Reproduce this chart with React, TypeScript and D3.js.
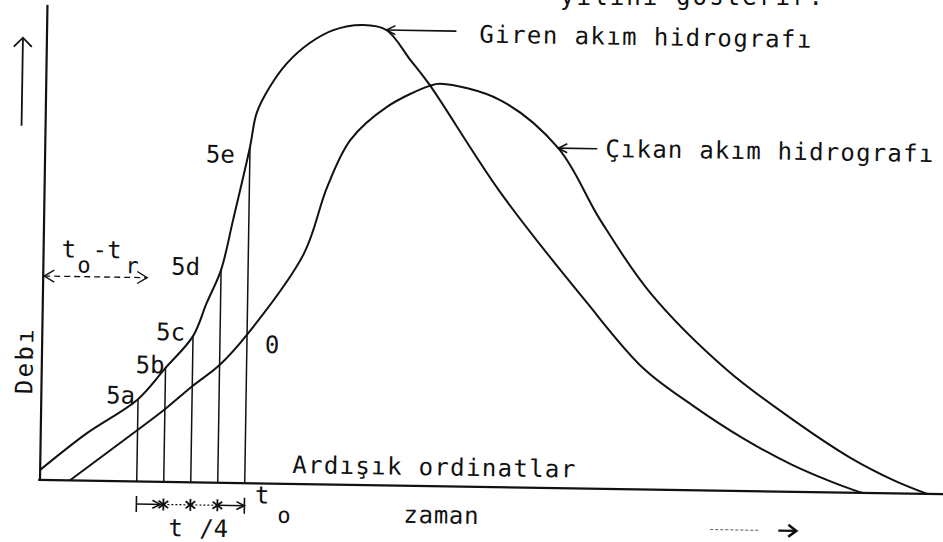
import React from "react";
import * as d3 from "d3";

// Inflow (giren) hydrograph: time and discharge, arbitrary units
const inflowTime = [0, 5.1, 10.75, 13.75, 16.75, 18.2, 19.75, 21.0, 22.75, 23.43, 24.87, 26.7, 29.2, 31.8, 35.1, 37.7, 40.4, 42.6, 50.6, 60.2, 66.8, 72.4, 78, 83.6, 89.2, 91.4];
const inflowQ = [2.2, 10.3, 17.9, 24.8, 31.8, 39, 46.3, 57.2, 73.1, 80.5, 86.3, 91.4, 95.9, 98.8, 100, 99, 92.6, 87.2, 64.2, 41, 26.4, 18.4, 11.5, 5.8, 1.4, 0];

// Outflow (çıkan) hydrograph
const outflowTime = [3.3, 10.75, 13.75, 16.75, 19.75, 22.75, 28.9, 31.4, 33.9, 37.9, 42.6, 43.8, 50.4, 57, 61.8, 67.5, 76.1, 83.6, 90, 94.8, 98.6];
const outflowQ = [0, 11.2, 15.8, 20.9, 25.6, 32.3, 50, 64.7, 75, 82.3, 87, 87.5, 84.2, 73.9, 58.4, 42.7, 26.3, 15.6, 7.6, 2.9, 0];

// Successive ordinates, spaced t_r/4 apart, ending at t_o
const ordinateLabels = ["5a", "5b", "5c", "5d", "5e"];
const ordinateTimes = [10.75, 13.75, 16.75, 19.75, 22.75];

// Where the curve labels point
const inflowLabelTime = 37.7;
const outflowLabelTime = 57;

const inflowLabel = "Giren akım hidrografı";
const outflowLabel = "Çıkan akım hidrografı";
const ordinatesLabel = "Ardışık ordinatlar";
const timeAxisLabel = "zaman";
const dischargeAxisLabel = "Debı";
const captionTail = "yılını gösterir.";

const INK = "#111";
const FONT = "'DejaVu Sans Mono', monospace";

const x = d3.scaleLinear().domain([0, 100]).range([40, 940]);
const y = d3.scaleLinear().domain([0, 100]).range([480, 20]);

const lineGen = d3
  .line<[number, number]>()
  .x((d) => x(d[0]))
  .y((d) => y(d[1]))
  .curve(d3.curveCatmullRom.alpha(0.5));

const inflowPts: [number, number][] = inflowTime.map((t, i) => [t, inflowQ[i]]);
const outflowPts: [number, number][] = outflowTime.map((t, i) => [t, outflowQ[i]]);

const qAt = (times: number[], qs: number[], t: number) => qs[times.indexOf(t)];

function Chevron({ x0, y0, dir, size = 10, spread = 5, width = 1.6 }: { x0: number; y0: number; dir: 1 | -1; size?: number; spread?: number; width?: number }) {
  return (
    <path
      d={`M${x0 - dir * size},${y0 - spread} L${x0},${y0} L${x0 - dir * size},${y0 + spread}`}
      fill="none"
      stroke={INK}
      strokeWidth={width}
    />
  );
}

function Star({ cx, cy }: { cx: number; cy: number }) {
  const r = 6;
  return (
    <g stroke={INK} strokeWidth={1.8}>
      <line x1={cx} y1={cy - r} x2={cx} y2={cy + r} />
      <line x1={cx - r * 0.8} y1={cy - r * 0.6} x2={cx + r * 0.8} y2={cy + r * 0.6} />
      <line x1={cx - r * 0.8} y1={cy + r * 0.6} x2={cx + r * 0.8} y2={cy - r * 0.6} />
    </g>
  );
}

export default function App() {
  const x0 = x(0);
  const y0 = y(0);

  const ordinates = ordinateTimes.map((t, i) => ({
    t,
    q: qAt(inflowTime, inflowQ, t),
    label: ordinateLabels[i],
  }));
  // label placement around each ordinate top: [dx from line, dy below top]
  const labelNudge: [number, number][] = [
    [-3, 4.5],
    [-1, 5.5],
    [-8, 4.6],
    [-21, 5.4],
    [-15, 16],
  ];

  const lastOrd = ordinateTimes[ordinateTimes.length - 1];
  const outAtLast = qAt(outflowTime, outflowQ, lastOrd);

  const gTip = { px: x(inflowLabelTime), py: y(qAt(inflowTime, inflowQ, inflowLabelTime)) };
  const cTip = { px: x(outflowLabelTime), py: y(qAt(outflowTime, outflowQ, outflowLabelTime)) };

  const dimY = y0 + 22.5;
  const ordX = ordinateTimes.map((t) => x(t));

  return (
    <svg
      width={943}
      height={542}
      viewBox="0 0 943 542"
      style={{ position: "absolute", left: 0, top: 0, background: "#fff" }}
    >
      <rect width={943} height={542} fill="#fff" />
      {/* caption line, mostly above the frame */}
      <text x={560} y={5} fontFamily={FONT} fontSize={24} fill={INK} textLength={263} lengthAdjust="spacing">
        {captionTail}
      </text>

      <g transform={`rotate(0.9 ${x0} ${y0})`} fontFamily={FONT} fill={INK}>
        {/* axes */}
        <line x1={x0} y1={y0} x2={x0} y2={y(103.3)} stroke={INK} strokeWidth={2.2} />
        <line x1={x(-0.2)} y1={y0} x2={x(101.5)} y2={y0} stroke={INK} strokeWidth={2.2} />

        {/* discharge direction arrow */}
        <line x1={16} y1={126} x2={16} y2={38} stroke={INK} strokeWidth={1.8} />
        <path d={`M7,47 L16,38 L25,47`} fill="none" stroke={INK} strokeWidth={1.8} />
        <text
          transform={`translate(31,362) rotate(-90)`}
          fontSize={24}
          textAnchor="middle"
          textLength={65}
          lengthAdjust="spacing"
        >
          {dischargeAxisLabel}
        </text>

        {/* hydrographs */}
        <path d={lineGen(inflowPts) ?? ""} fill="none" stroke={INK} strokeWidth={2} />
        <path d={lineGen(outflowPts) ?? ""} fill="none" stroke={INK} strokeWidth={2} />

        {/* successive ordinates */}
        {ordinates.map((o, i) => (
          <g key={o.label}>
            <line x1={x(o.t)} y1={y0} x2={x(o.t)} y2={y(o.q)} stroke={INK} strokeWidth={1.5} />
            <text
              x={x(o.t) + labelNudge[i][0]}
              y={y(o.q) + labelNudge[i][1]}
              fontSize={24}
              textAnchor="end"
            >
              {o.label}
            </text>
          </g>
        ))}
        <text x={x(lastOrd) + 18} y={y(outAtLast) + 18} fontSize={24}>
          0
        </text>

        {/* inflow label */}
        <line x1={gTip.px} y1={gTip.py} x2={gTip.px + 70} y2={gTip.py} stroke={INK} strokeWidth={1.6} />
        <Chevron x0={gTip.px} y0={gTip.py} dir={-1} size={9} spread={4.5} />
        <text x={gTip.px + 93} y={gTip.py + 11} fontSize={24} textLength={332} lengthAdjust="spacing">
          {inflowLabel}
        </text>

        {/* outflow label */}
        <line x1={cTip.px} y1={cTip.py} x2={cTip.px + 39} y2={cTip.py} stroke={INK} strokeWidth={1.6} />
        <Chevron x0={cTip.px} y0={cTip.py} dir={-1} size={9} spread={4.5} />
        <text x={cTip.px + 47} y={cTip.py + 8} fontSize={24} textLength={328} lengthAdjust="spacing">
          {outflowLabel}
        </text>

        {/* t_o - t_r interval */}
        <line x1={x0 + 1} y1={276} x2={144} y2={276} stroke={INK} strokeWidth={1.3} strokeDasharray="6 4" />
        <Chevron x0={x0 + 1} y0={276} dir={-1} size={10} spread={6} width={1.4} />
        <Chevron x0={144} y0={276} dir={1} size={10} spread={6} width={1.4} />
        <text x={58} y={257} fontSize={24}>t</text>
        <text x={74} y={272} fontSize={22}>o</text>
        <text x={89} y={257} fontSize={24}>-t</text>
        <text x={122} y={272} fontSize={22}>r</text>

        {/* ordinates caption */}
        <text x={292} y={469} fontSize={24} textLength={283} lengthAdjust="spacing">
          {ordinatesLabel}
        </text>

        {/* t_r / 4 spacing */}
        <line x1={ordX[0]} y1={dimY - 8} x2={ordX[0]} y2={dimY + 8} stroke={INK} strokeWidth={1.6} />
        <line x1={ordX[4]} y1={dimY - 8} x2={ordX[4]} y2={dimY + 8} stroke={INK} strokeWidth={1.6} />
        <line x1={ordX[0]} y1={dimY} x2={ordX[1]} y2={dimY} stroke={INK} strokeWidth={1.4} />
        <line x1={ordX[1]} y1={dimY} x2={ordX[3]} y2={dimY} stroke={INK} strokeWidth={1.2} strokeDasharray="2 2" />
        <line x1={ordX[3]} y1={dimY} x2={ordX[4]} y2={dimY} stroke={INK} strokeWidth={1.4} />
        <Chevron x0={ordX[1] - 3} y0={dimY} dir={1} size={8} spread={4} />
        <Chevron x0={ordX[4]} y0={dimY} dir={1} size={8} spread={4} />
        {ordX.slice(1, 4).map((px) => (
          <Star key={px} cx={px} cy={dimY} />
        ))}
        <text x={169} y={534} fontSize={24}>t</text>
        <text x={200} y={534} fontSize={24}>/4</text>

        {/* t_o at the end of the ordinates */}
        <text x={255} y={500} fontSize={24}>t</text>
        <text x={278} y={519} fontSize={22}>o</text>

        {/* time axis */}
        <text x={404} y={517} fontSize={24} textLength={75} lengthAdjust="spacing">
          {timeAxisLabel}
        </text>
        <line x1={711} y1={519} x2={760} y2={519} stroke="#555" strokeWidth={1} strokeDasharray="3 2" />
        <line x1={779} y1={519} x2={797} y2={519} stroke={INK} strokeWidth={2.2} />
        <Chevron x0={797} y0={519} dir={1} size={8} spread={6} width={2.6} />
      </g>
    </svg>
  );
}
